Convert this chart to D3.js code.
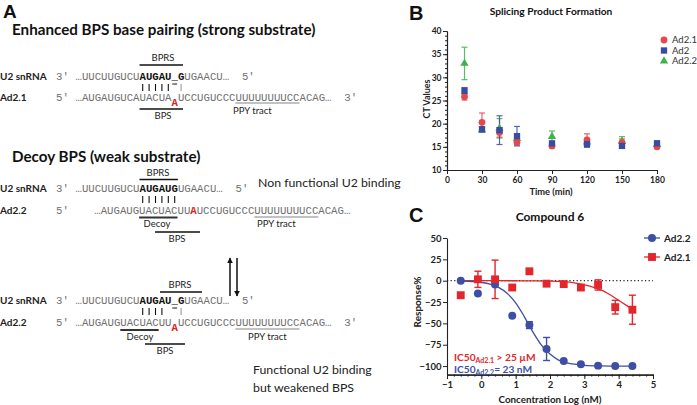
<!DOCTYPE html>
<html><head><meta charset="utf-8">
<script src="https://cdn.jsdelivr.net/npm/d3@7"></script>
<style>body{margin:0;background:#fff} svg{display:block}</style>
</head><body>
<svg id="fig" width="697" height="405"></svg>
<script>
// ---------- Panel B data ----------
const timeMin   = [15, 30, 45, 60, 90, 120, 150, 180];
const timeTicks = [0, 30, 60, 90, 120, 150, 180];
const ctTicks   = [10, 15, 20, 25, 30, 35, 40];
const ad21CT    = [25.8, 20.3, 18.1, 16.0, 15.2, 16.5, 15.9, 15.0];
const ad21CTErr = [0.7, 2.0, 1.0, 0.6, 0.4, 1.3, 0.8, 0.4];
const ad2CT     = [27.1, 18.8, 18.6, 17.3, 15.75, 15.6, 15.2, 15.75];
const ad2CTErr  = [0.7, 0.5, 3.1, 2.1, 0.4, 0.7, 0.4, 0.5];
const ad22CT    = [33.0, 18.6, 19.0, 16.8, 17.2, 16.0, 16.2, 15.5];
const ad22CTErr = [3.5, 0.5, 2.1, 0.5, 1.2, 0.5, 1.0, 0.4];
const legendB   = ["Ad2.1", "Ad2", "Ad2.2"];

// ---------- Panel C data ----------
const logConc    = [-0.6, -0.1, 0.4, 0.9, 1.4, 1.9, 2.4, 2.9, 3.4, 3.9, 4.4];
const ad22Resp   = [0, -15, -4.5, -41, -52, -80, -94, -98, -99.5, -100, -100];
const ad22RespErr= [0, 0, 0, 0, 4, 13.5, 0, 0, 0, 0, 0];
const ad21Resp   = [-17, 1.6, 1.6, -8, 11, -3.5, -4, -8, -5, -31, -34];
const ad21RespErr= [0, 9.5, 22.5, 0, 0, 0, 0, 0, 6, 8, 17];
const fitX       = [-0.6, -0.2, 0, 0.25, 0.5, 0.75, 1, 1.25, 1.5, 1.75, 2, 2.25, 2.5, 3, 3.5, 4, 4.4];
const ad22Fit    = [-0.4, -1.1, -2, -3.9, -7.8, -14.7, -26, -42, -60, -75.5, -86, -93, -96.4, -99.1, -99.8, -100, -100];
const ad21FitX   = [-0.6, 0, 0.5, 1, 1.5, 2, 2.5, 2.75, 3, 3.25, 3.5, 3.75, 4, 4.25, 4.4];
const ad21Fit    = [0, 0, 0, -0.1, -0.2, -0.5, -1.5, -2.8, -4.8, -7.5, -11, -16.5, -23, -29.5, -33.5];
const respTicks  = [50, 25, 0, -25, -50, -75, -100];
const concTicks  = [-1, 0, 1, 2, 3, 4, 5];
const legendC    = ["Ad2.2", "Ad2.1"];

// ---------- Panel A sequences ----------
const u2Strong  = [["…UUCUUGUCU","g"],["AUGAU_G","b"],["UGAACU…","g"],["  ","gap"],["5′","g"]];
const ad21Seq   = [["…AUGAUGUCAUACUA","g"],[" ","gap"],["UCCUGUCCCUUUUUUUUCCACAG…","g"],["  ","gap"],["3′","g"]];
const u2Decoy   = [["…UUCUUGUCU","g"],["AUGAUG","b"],["UGAACU…","g"],["  ","gap"],["5′","g"]];
const ad22Decoy = [["…AUGAUGUACUACUU","g"],["A","r"],["UCCUGUCCCUUUUUUUUCCACAG…","g"]];
const ad22Func  = [["…AUGAUGUACUACUU","g"],[" ","gap"],["UCCUGUCCCUUUUUUUUCCACAG…","g"],["  ","gap"],["3′","g"]];

const SANS = "Lato, 'Open Sans', sans-serif";
const MONO = "'Liberation Mono', 'DejaVu Sans Mono', monospace";
const svg = d3.select("#fig");

// panel letters
[["A",3,18,19],["B",409,20,20],["C",409,222,20]].forEach(([t,x,y,fs]) =>
  svg.append("text").attr("x",x).attr("y",y).attr("font-family","'Liberation Sans', Arial, sans-serif")
     .attr("font-weight","bold").attr("font-size",fs).attr("fill","#111").text(t));

// ================= Panel A =================
const gA = svg.append("g");
const CW = 6.4, FS = CW/0.6;
const SEQ_GRAY = "#707070";
function txt(x, y, t, o={}) {
  return gA.append("text").attr("x",x).attr("y",y).text(t)
    .attr("font-family", o.ff || SANS).attr("font-size", o.fs || 10)
    .attr("font-weight", o.fw || "normal").attr("fill", o.fill || "#222")
    .attr("text-anchor", o.anchor || "start");
}
function seqRow(x0, y, parts) {
  let idx = 0;
  parts.forEach(([t, st]) => {
    const chars = Array.from(t);
    if (st !== "gap") {
      const xs = chars.map((c,i) => (x0 + (idx+i)*CW).toFixed(2));
      gA.append("text").attr("x", xs.join(" ")).attr("y", y).text(t)
        .attr("font-family", MONO).attr("font-size", FS)
        .attr("font-weight", st === "g" ? "normal" : "bold")
        .attr("fill", st === "g" ? SEQ_GRAY : (st === "r" ? "#e02020" : "#111"));
    }
    idx += chars.length;
  });
}
function hline(x1, x2, y, w=1.3, c="#111") {
  gA.append("line").attr("x1",x1).attr("x2",x2).attr("y1",y).attr("y2",y).attr("stroke",c).attr("stroke-width",w);
}
function bars(x0, idxs, y1, y2, c="#111") {
  idxs.forEach(i => gA.append("line").attr("x1", x0+(i+0.5)*CW).attr("x2", x0+(i+0.5)*CW)
    .attr("y1",y1).attr("y2",y2).attr("stroke",c).attr("stroke-width",1.1));
}
const X0 = 75.5, X0D = 94.3;
const col = (x0,i) => x0 + i*CW;

// Section 1
txt(12, 34.5, "Enhanced BPS base pairing (strong substrate)", {fs:15.2, fw:"bold", fill:"#111"});
txt(163, 61, "BPRS", {fs:9.5, anchor:"middle"});
hline(col(X0,10), col(X0,16.8), 65);
txt(0, 80, "U2 snRNA", {fs:10, fw:"bold"});
txt(56, 80, "3′", {ff:MONO, fs:FS, fill:SEQ_GRAY});
seqRow(X0, 80, u2Strong);
bars(X0, [10,11,12,13,14], 84, 91);
hline(col(X0,15)+0.8, col(X0,16)-0.8, 84, 1);
bars(X0, [16], 84, 91, "#999");
txt(0, 101, "Ad2.1", {fs:10, fw:"bold"});
txt(56, 101, "5′", {ff:MONO, fs:FS, fill:SEQ_GRAY});
seqRow(X0, 101, ad21Seq);
seqRow(X0, 106, [[" ".repeat(15),"gap"],["A","r"]]);
hline(col(X0,10), col(X0,16.8), 109);
txt(163, 119, "BPS", {fs:9.5, anchor:"middle"});
hline(col(X0,25), col(X0,35), 103, 0.9, "#777");
txt(233, 114, "PPY tract", {fs:9.5});

// Section 2
txt(12, 162, "Decoy BPS (weak substrate)", {fs:15.2, fw:"bold", fill:"#111"});
txt(258, 187, "Non functional U2 binding", {fs:12.3});
txt(158, 176, "BPRS", {fs:9.5, anchor:"middle"});
hline(col(X0,10), col(X0,16), 179.5);
txt(0, 192, "U2 snRNA", {fs:10, fw:"bold"});
txt(56, 192, "3′", {ff:MONO, fs:FS, fill:SEQ_GRAY});
seqRow(X0, 192, u2Decoy);
bars(X0, [10,11,12,13,14,15], 196, 203);
txt(0, 214, "Ad2.2", {fs:10, fw:"bold"});
txt(56, 214, "5′", {ff:MONO, fs:FS, fill:SEQ_GRAY});
seqRow(X0D, 214, ad22Decoy);
hline(col(X0D,7), col(X0D,13), 217.5, 1.8, "#333");
txt(157, 227, "Decoy", {fs:9.5, anchor:"middle"});
hline(155, 200, 232);
txt(177, 242, "BPS", {fs:9.5, anchor:"middle"});
hline(col(X0D,25), col(X0D,35), 217, 0.9, "#777");
txt(257, 227, "PPY tract", {fs:9.5});

// Arrows
const defs = svg.append("defs");
defs.append("marker").attr("id","ah").attr("viewBox","0 0 10 10").attr("refX",9).attr("refY",5)
  .attr("markerWidth",4).attr("markerHeight",4.5).attr("orient","auto")
  .append("path").attr("d","M0,0L10,5L0,10Z").attr("fill","#111");
gA.append("line").attr("x1",230).attr("x2",230).attr("y1",296).attr("y2",258)
  .attr("stroke","#111").attr("stroke-width",1.5).attr("marker-end","url(#ah)");
gA.append("line").attr("x1",237).attr("x2",237).attr("y1",258).attr("y2",296)
  .attr("stroke","#111").attr("stroke-width",1.5).attr("marker-end","url(#ah)");

// Section 3
txt(180, 288, "BPRS", {fs:9.5, anchor:"middle"});
hline(160, 202, 292);
txt(0, 304, "U2 snRNA", {fs:10, fw:"bold"});
txt(56, 304, "3′", {ff:MONO, fs:FS, fill:SEQ_GRAY});
seqRow(X0, 304, u2Strong);
bars(X0, [10,11,12,13], 308, 315);
hline(col(X0,15)+0.8, col(X0,16)-0.8, 308, 1);
bars(X0, [16], 308, 315, "#999");
txt(0, 326, "Ad2.2", {fs:10, fw:"bold"});
txt(56, 326, "5′", {ff:MONO, fs:FS, fill:SEQ_GRAY});
seqRow(X0, 326, ad22Func);
seqRow(X0, 331, [[" ".repeat(15),"gap"],["A","r"]]);
hline(col(X0,7), col(X0,13), 330, 1.8, "#333");
txt(140, 340, "Decoy", {fs:9.5, anchor:"middle"});
hline(145, 185, 344);
txt(165, 354, "BPS", {fs:9.5, anchor:"middle"});
hline(col(X0,25), col(X0,35), 329, 0.9, "#777");
txt(248, 340, "PPY tract", {fs:9.5});
txt(253, 374, "Functional U2 binding", {fs:12.3});
txt(253, 392, "but weakened BPS", {fs:12.3});

// ================= Panel B =================
const gB = svg.append("g");
const xB = d3.scaleLinear().domain([0,180]).range([447,657]);
const yB = d3.scaleLinear().domain([10,40]).range([170,31]);
const AX = "#222";
function styleAxis(g, fs) {
  g.selectAll("path").attr("stroke",AX).attr("stroke-width",1.1);
  g.selectAll("line").attr("stroke",AX).attr("stroke-width",1);
  g.selectAll("text").attr("font-family",SANS).attr("font-weight","bold").attr("font-size",fs).attr("fill","#222");
}
gB.append("g").attr("transform","translate(447,0)")
  .call(d3.axisLeft(yB).tickValues(d3.range(10,41,1)).tickSize(2).tickFormat("").tickSizeOuter(0))
  .call(g=>styleAxis(g,8));
gB.append("g").attr("transform","translate(447,0)")
  .call(d3.axisLeft(yB).tickValues(ctTicks).tickSize(4).tickPadding(1.5).tickSizeOuter(0))
  .call(g=>styleAxis(g,8.5));
gB.append("g").attr("transform","translate(0,170)")
  .call(d3.axisBottom(xB).tickValues(timeTicks).tickSize(4).tickPadding(2.5).tickSizeOuter(0))
  .call(g=>styleAxis(g,8.5));
gB.append("text").attr("x",551).attr("y",15).attr("text-anchor","middle").attr("font-family",SANS)
  .attr("font-weight","bold").attr("font-size",10.2).attr("fill","#111").text("Splicing Product Formation");
gB.append("text").attr("x",551).attr("y",195).attr("text-anchor","middle").attr("font-family",SANS)
  .attr("font-weight","bold").attr("font-size",9.3).attr("fill","#222").text("Time (min)");
gB.append("text").attr("transform","translate(430,99) rotate(-90)").attr("text-anchor","middle").attr("font-family",SANS)
  .attr("font-weight","bold").attr("font-size",9).attr("fill","#222").text("CT Values");

const seriesB = [
  {vals: ad22CT, err: ad22CTErr, color:"#3db44b", sym:d3.symbolTriangle, size:30},
  {vals: ad21CT, err: ad21CTErr, color:"#e8474a", sym:d3.symbolCircle, size:36},
  {vals: ad2CT,  err: ad2CTErr,  color:"#3a4ca2", sym:d3.symbolSquare, size:40},
];
function errBars(g, xs, vals, errs, xS, yS, color, cap, w, op) {
  xs.forEach((x,i) => {
    if (!errs[i]) return;
    const px = xS(x), y1 = yS(vals[i]+errs[i]), y2 = yS(vals[i]-errs[i]);
    const gg = g.append("g").attr("stroke",color).attr("stroke-width",w).attr("opacity",op);
    gg.append("line").attr("x1",px).attr("x2",px).attr("y1",y1).attr("y2",y2);
    gg.append("line").attr("x1",px-cap).attr("x2",px+cap).attr("y1",y1).attr("y2",y1);
    gg.append("line").attr("x1",px-cap).attr("x2",px+cap).attr("y1",y2).attr("y2",y2);
  });
}
seriesB.forEach(s => errBars(gB, timeMin, s.vals, s.err, xB, yB, s.color, 3, 1.2, 0.85));
seriesB.forEach(s => {
  gB.selectAll(null).data(s.vals).enter().append("path")
    .attr("d", d3.symbol().type(s.sym).size(s.size))
    .attr("transform",(d,i)=>`translate(${xB(timeMin[i])},${yB(d)})`)
    .attr("fill", s.color);
});
// legend B
const legBSeries = [seriesB[1], seriesB[2], seriesB[0]];
legendB.forEach((name,i) => {
  const y = 40 + i*10.5;
  gB.append("path").attr("d", d3.symbol().type(legBSeries[i].sym).size(legBSeries[i].size))
    .attr("transform",`translate(664,${y})`).attr("fill",legBSeries[i].color);
  gB.append("text").attr("x",672).attr("y",y+3.3).attr("font-family",SANS).attr("font-size",9.5)
    .attr("fill","#333").text(name);
});

// ================= Panel C =================
const gC = svg.append("g");
const xC = d3.scaleLinear().domain([-1,5]).range([447,653]);
const yC = d3.scaleLinear().domain([-110,50]).range([374.6,238]);
gC.append("g").attr("transform","translate(0,374.6)")
  .call(d3.axisBottom(xC).tickValues(d3.range(-1,5.01,0.2)).tickSize(2).tickFormat("").tickSizeOuter(0))
  .call(g=>styleAxis(g,9));
gC.append("g").attr("transform","translate(0,374.6)")
  .call(d3.axisBottom(xC).tickValues(concTicks).tickFormat(d3.format("d")).tickSize(4.5).tickPadding(2.5).tickSizeOuter(0))
  .call(g=>styleAxis(g,9.5));
gC.append("g").attr("transform","translate(447,0)")
  .call(d3.axisLeft(yC).tickValues(respTicks).tickSize(4).tickPadding(1.5).tickSizeOuter(0))
  .call(g=>styleAxis(g,9.5));
gC.append("text").attr("x",550).attr("y",221).attr("text-anchor","middle").attr("font-family",SANS)
  .attr("font-weight","bold").attr("font-size",12).attr("fill","#111").text("Compound 6");
gC.append("text").attr("x",550).attr("y",403).attr("text-anchor","middle").attr("font-family",SANS)
  .attr("font-weight","bold").attr("font-size",9.8).attr("fill","#222").text("Concentration Log (nM)");
gC.append("text").attr("transform","translate(421,302) rotate(-90)").attr("text-anchor","middle").attr("font-family",SANS)
  .attr("font-weight","bold").attr("font-size",10).attr("fill","#222").text("Response%");
// zero line
gC.append("line").attr("x1",xC(-1)).attr("x2",xC(5)).attr("y1",yC(0)).attr("y2",yC(0))
  .attr("stroke","#222").attr("stroke-width",1.2).attr("stroke-dasharray","1.2,2.4");
const BLUE_C = "#3d4ea5", RED_C = "#e2262b";
const line = d3.line().curve(d3.curveMonotoneX);
gC.append("path").attr("d", line(ad21FitX.map((x,i)=>[xC(x), yC(ad21Fit[i])])))
  .attr("fill","none").attr("stroke",RED_C).attr("stroke-width",1.3);
gC.append("path").attr("d", line(fitX.map((x,i)=>[xC(x), yC(ad22Fit[i])])))
  .attr("fill","none").attr("stroke",BLUE_C).attr("stroke-width",1.3);
errBars(gC, logConc, ad21Resp, ad21RespErr, xC, yC, RED_C, 3.5, 1.4, 1);
errBars(gC, logConc, ad22Resp, ad22RespErr, xC, yC, BLUE_C, 3.5, 1.4, 1);
gC.selectAll(null).data(ad22Resp).enter().append("path")
  .attr("d", d3.symbol().type(d3.symbolCircle).size(50))
  .attr("transform",(d,i)=>`translate(${xC(logConc[i])},${yC(d)})`).attr("fill",BLUE_C);
gC.selectAll(null).data(ad21Resp).enter().append("path")
  .attr("d", d3.symbol().type(d3.symbolSquare).size(62))
  .attr("transform",(d,i)=>`translate(${xC(logConc[i])},${yC(d)})`).attr("fill",RED_C);
// legend C
const legCStyle = [[BLUE_C, d3.symbolCircle, 50],[RED_C, d3.symbolSquare, 62]];
legendC.forEach((name,i) => {
  const y = 238 + i*19;
  const [c, sym, sz] = legCStyle[i];
  gC.append("line").attr("x1",644).attr("x2",660).attr("y1",y).attr("y2",y).attr("stroke",c).attr("stroke-width",1.3);
  gC.append("path").attr("d", d3.symbol().type(sym).size(sz)).attr("transform",`translate(652,${y})`).attr("fill",c);
  gC.append("text").attr("x",664).attr("y",y+3.5).attr("font-family",SANS).attr("font-weight","bold")
    .attr("font-size",10).attr("fill","#222").text(name);
});
// IC50 labels
function ic50(y, color, sub, rest) {
  const t = gC.append("text").attr("x",454).attr("y",y).attr("font-family",SANS).attr("font-weight","bold")
    .attr("font-size",10.2).attr("fill",color);
  t.append("tspan").text("IC50");
  t.append("tspan").attr("font-size",7).attr("dy",2).text(sub);
  t.append("tspan").attr("dy",-2).text(rest);
}
ic50(360.5, RED_C, "Ad2.1", " > 25 µM");
ic50(372.5, BLUE_C, "Ad2.2", "= 23 nM");
</script>
</body></html>
